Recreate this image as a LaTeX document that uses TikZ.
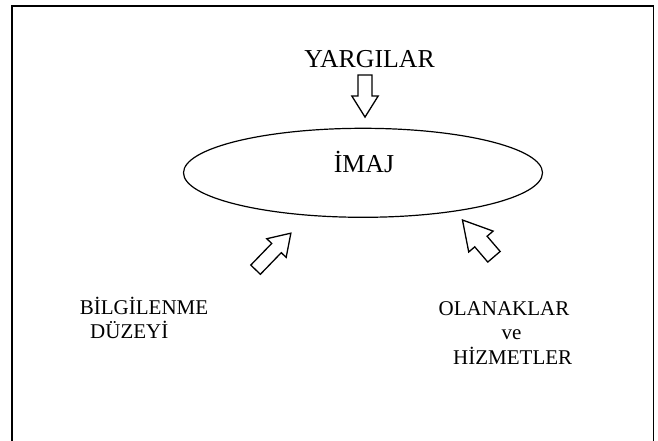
\documentclass[tikz,border=0pt]{standalone}
\usepackage{fontspec}
\setmainfont{Liberation Serif}
\usetikzlibrary{shapes.geometric,shapes.arrows}

\begin{document}
\begin{tikzpicture}[x=1pt,y=-1pt,
  hollow/.style={single arrow,draw,line width=1.3pt,inner xsep=0pt,minimum width=0pt,anchor=tip},
  big/.style={font=\fontsize{25.8}{30}\selectfont},
  small/.style={font=\fontsize{21}{24.6}\selectfont,inner sep=0pt,align=left,anchor=base west}]
\useasboundingbox (0,0) rectangle (658,441);
\draw[line width=1.7pt] (11.7,441) -- (11.7,5.7) -- (653.5,5.7) -- (653.5,441);
\node (imaj) at (363,172.8) [ellipse,draw,line width=1.2pt,minimum width=359pt,minimum height=89pt,inner sep=0pt] {};
\node (imajtext) at (imaj.center) [big,anchor=base,xshift=1pt] {İMAJ};
\node (yargilar) at (369.5,68) [big,anchor=base] {YARGILAR};
\node (downarrow) at (365,118.3) [hollow,rotate=-90,inner ysep=6.3pt,single arrow head extend=6.2pt,single arrow tip angle=64,minimum height=42pt] {};
\node (leftarrow) at (291.7,232.3) [hollow,rotate=46,inner ysep=6pt,single arrow head extend=6.8pt,single arrow tip angle=66,minimum height=50.8pt] {};
\node (rightarrow) at (461.6,219) [hollow,rotate=130.6,inner ysep=7.5pt,single arrow head extend=7.9pt,single arrow tip angle=59,minimum height=48.4pt] {};
\node (bilgi) at (79.7,338.6) [small] {BİLGİLENME\\\hspace*{10.3pt}DÜZEYİ};
\node (olanak) at (438.5,364.2) [small] {OLANAKLAR\\\hspace*{63pt}ve\\\hspace*{14.5pt}HİZMETLER};
\end{tikzpicture}
\end{document}
